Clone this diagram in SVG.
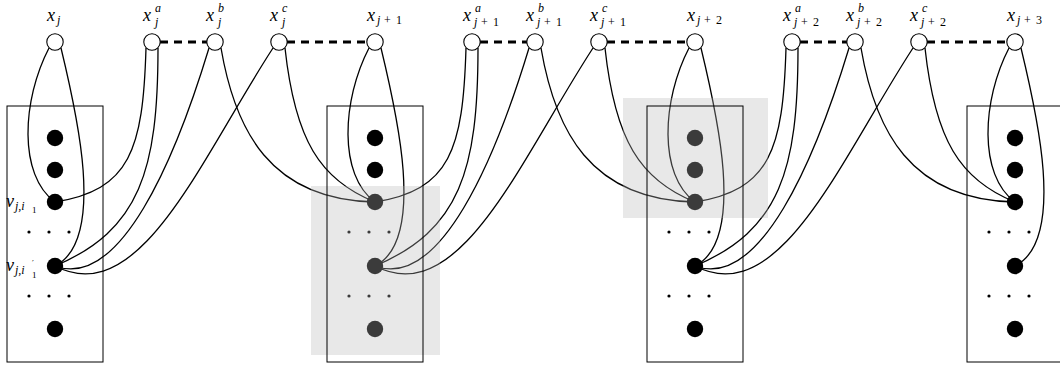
<svg xmlns="http://www.w3.org/2000/svg" width="1060" height="369" viewBox="0 0 1060 369">
<style>
.m{font-family:"Liberation Serif","DejaVu Serif",serif;font-style:italic;font-size:18px;fill:#000}
.s{font-family:"Liberation Serif","DejaVu Serif",serif;font-style:italic;font-size:12px;fill:#000}
.ss{font-family:"Liberation Serif","DejaVu Serif",serif;font-style:normal;font-size:9px;fill:#000}
.pr{font-family:"DejaVu Sans",sans-serif;font-style:normal;font-size:8px;fill:#000}
.u{font-style:normal}
.vtx{fill:#fff;stroke:#000;stroke-width:1.1}
.dot{fill:#000}
.sd{fill:#000}
.box{fill:none;stroke:#000;stroke-width:1}
.hl{fill:#b8b8b8;fill-opacity:0.32}
.e{fill:none;stroke:#000;stroke-width:1.3}
.d{stroke:#000;stroke-width:3.2;stroke-dasharray:8 6}
</style>

<g id="connectors">
  <line class="d" x1="160" y1="42" x2="207" y2="42"/>
  <line class="d" x1="287" y1="42" x2="367" y2="42"/>
  <line class="d" x1="480" y1="42" x2="527" y2="42"/>
  <line class="d" x1="607" y1="42" x2="687" y2="42"/>
  <line class="d" x1="800" y1="42" x2="847" y2="42"/>
  <line class="d" x1="927" y1="42" x2="1007" y2="42"/>
  <path class="e" d="M 49,48 C 22,100 18,175 55,202"/>
  <path class="e" d="M 61,48 C 76,110 107,240 55,266"/>
  <path class="e" d="M 146,48 C 143,150 130,190 55,202"/>
  <path class="e" d="M 158,48 C 158,170 140,230 55,266"/>
  <path class="e" d="M 209,48 C 175,160 120,290 55,266"/>
  <path class="e" d="M 273,48 C 200,160 140,310 55,266"/>
  <path class="e" d="M 221,48 C 235,130 270,200 375,202"/>
  <path class="e" d="M 285,48 C 295,140 320,180 375,202"/>
  <path class="e" d="M 369,48 C 342,100 338,175 375,202"/>
  <path class="e" d="M 381,48 C 396,110 427,240 375,266"/>
  <path class="e" d="M 466,48 C 463,150 450,190 375,202"/>
  <path class="e" d="M 478,48 C 478,170 460,230 375,266"/>
  <path class="e" d="M 529,48 C 495,160 440,290 375,266"/>
  <path class="e" d="M 593,48 C 520,160 460,310 375,266"/>
  <path class="e" d="M 541,48 C 555,130 590,200 695,202"/>
  <path class="e" d="M 605,48 C 615,140 640,180 695,202"/>
  <path class="e" d="M 689,48 C 662,100 658,175 695,202"/>
  <path class="e" d="M 701,48 C 716,110 747,240 695,266"/>
  <path class="e" d="M 786,48 C 783,150 770,190 695,202"/>
  <path class="e" d="M 798,48 C 798,170 780,230 695,266"/>
  <path class="e" d="M 849,48 C 815,160 760,290 695,266"/>
  <path class="e" d="M 913,48 C 840,160 780,310 695,266"/>
  <path class="e" d="M 861,48 C 875,130 910,200 1015,202"/>
  <path class="e" d="M 925,48 C 935,140 960,180 1015,202"/>
  <path class="e" d="M 1009,48 C 982,100 978,175 1015,202"/>
  <path class="e" d="M 1021,48 C 1036,110 1067,240 1015,266"/>
</g>

<g id="box-j-dots">
  <circle class="dot" cx="55" cy="138" r="8.2"/><circle class="dot" cx="55" cy="170" r="8.2"/>
  <circle class="dot" cx="55" cy="202" r="8.2"/><circle class="dot" cx="55" cy="266" r="8.2"/>
  <circle class="dot" cx="55" cy="329" r="8.2"/>
  <circle class="sd" cx="29" cy="232" r="1.6"/><circle class="sd" cx="49" cy="232" r="1.6"/><circle class="sd" cx="69" cy="232" r="1.6"/>
  <circle class="sd" cx="29" cy="296" r="1.6"/><circle class="sd" cx="49" cy="296" r="1.6"/><circle class="sd" cx="69" cy="296" r="1.6"/>
</g>
<g id="box-j1-dots">
  <circle class="dot" cx="375" cy="138" r="8.2"/><circle class="dot" cx="375" cy="170" r="8.2"/>
  <circle class="dot" cx="375" cy="202" r="8.2"/><circle class="dot" cx="375" cy="266" r="8.2"/>
  <circle class="dot" cx="375" cy="329" r="8.2"/>
  <circle class="sd" cx="349" cy="232" r="1.6"/><circle class="sd" cx="369" cy="232" r="1.6"/><circle class="sd" cx="389" cy="232" r="1.6"/>
  <circle class="sd" cx="349" cy="296" r="1.6"/><circle class="sd" cx="369" cy="296" r="1.6"/><circle class="sd" cx="389" cy="296" r="1.6"/>
</g>
<g id="box-j2-dots">
  <circle class="dot" cx="695" cy="138" r="8.2"/><circle class="dot" cx="695" cy="170" r="8.2"/>
  <circle class="dot" cx="695" cy="202" r="8.2"/><circle class="dot" cx="695" cy="266" r="8.2"/>
  <circle class="dot" cx="695" cy="329" r="8.2"/>
  <circle class="sd" cx="669" cy="232" r="1.6"/><circle class="sd" cx="689" cy="232" r="1.6"/><circle class="sd" cx="709" cy="232" r="1.6"/>
  <circle class="sd" cx="669" cy="296" r="1.6"/><circle class="sd" cx="689" cy="296" r="1.6"/><circle class="sd" cx="709" cy="296" r="1.6"/>
</g>
<g id="box-j3-dots">
  <circle class="dot" cx="1015" cy="138" r="8.2"/><circle class="dot" cx="1015" cy="170" r="8.2"/>
  <circle class="dot" cx="1015" cy="202" r="8.2"/><circle class="dot" cx="1015" cy="266" r="8.2"/>
  <circle class="dot" cx="1015" cy="329" r="8.2"/>
  <circle class="sd" cx="989" cy="232" r="1.6"/><circle class="sd" cx="1009" cy="232" r="1.6"/><circle class="sd" cx="1029" cy="232" r="1.6"/>
  <circle class="sd" cx="989" cy="296" r="1.6"/><circle class="sd" cx="1009" cy="296" r="1.6"/><circle class="sd" cx="1029" cy="296" r="1.6"/>
</g>

<g id="highlights">
  <rect class="hl" x="311" y="186" width="129" height="169"/>
  <rect class="hl" x="623" y="98" width="145" height="120"/>
</g>

<g id="boxes">
  <rect id="box-j" class="box" x="7" y="106" width="96" height="256"/>
  <rect id="box-j1" class="box" x="327" y="106" width="96" height="256"/>
  <rect id="box-j2" class="box" x="647" y="106" width="96" height="256"/>
  <rect id="box-j3" class="box" x="967" y="106" width="96" height="256"/>
</g>

<g id="v-labels">
  <text class="m" x="6" y="207">v</text>
  <text class="s" x="15" y="210">j,i</text>
  <text class="ss" x="32" y="213">1</text>
  <text class="m" x="6" y="271">v</text>
  <text class="s" x="15" y="274">j,i</text>
  <text class="pr" x="32" y="267">′</text>
  <text class="ss" x="32" y="278">1</text>
</g>

<g id="node-xj"><circle class="vtx" cx="55" cy="42" r="8.2"/>
  <text class="m" x="47" y="21">x</text><text class="s" x="57" y="24">j</text></g>
<g id="node-xja"><circle class="vtx" cx="152" cy="42" r="8.2"/>
  <text class="m" x="143" y="21">x</text><text class="s" x="155" y="12">a</text><text class="s" x="155" y="26">j</text></g>
<g id="node-xjb"><circle class="vtx" cx="215" cy="42" r="8.2"/>
  <text class="m" x="206" y="21">x</text><text class="s" x="218" y="12">b</text><text class="s" x="218" y="26">j</text></g>
<g id="node-xjc"><circle class="vtx" cx="279" cy="42" r="8.2"/>
  <text class="m" x="270" y="21">x</text><text class="s" x="282" y="12">c</text><text class="s" x="282" y="26">j</text></g>

<g id="node-xj1"><circle class="vtx" cx="375" cy="42" r="8.2"/>
  <text class="m" x="367" y="21">x</text><text class="s" x="377" y="24">j<tspan class="u" x="384">+</tspan><tspan class="u" x="396">1</tspan></text></g>
<g id="node-xj1a"><circle class="vtx" cx="472" cy="42" r="8.2"/>
  <text class="m" x="463" y="21">x</text><text class="s" x="475" y="12">a</text><text class="s" x="474" y="26">j<tspan class="u" x="481">+</tspan><tspan class="u" x="493">1</tspan></text></g>
<g id="node-xj1b"><circle class="vtx" cx="535" cy="42" r="8.2"/>
  <text class="m" x="526" y="21">x</text><text class="s" x="538" y="12">b</text><text class="s" x="537" y="26">j<tspan class="u" x="544">+</tspan><tspan class="u" x="556">1</tspan></text></g>
<g id="node-xj1c"><circle class="vtx" cx="599" cy="42" r="8.2"/>
  <text class="m" x="590" y="21">x</text><text class="s" x="602" y="12">c</text><text class="s" x="601" y="26">j<tspan class="u" x="608">+</tspan><tspan class="u" x="620">1</tspan></text></g>

<g id="node-xj2"><circle class="vtx" cx="695" cy="42" r="8.2"/>
  <text class="m" x="687" y="21">x</text><text class="s" x="697" y="24">j<tspan class="u" x="704">+</tspan><tspan class="u" x="716">2</tspan></text></g>
<g id="node-xj2a"><circle class="vtx" cx="792" cy="42" r="8.2"/>
  <text class="m" x="783" y="21">x</text><text class="s" x="795" y="12">a</text><text class="s" x="794" y="26">j<tspan class="u" x="801">+</tspan><tspan class="u" x="813">2</tspan></text></g>
<g id="node-xj2b"><circle class="vtx" cx="855" cy="42" r="8.2"/>
  <text class="m" x="846" y="21">x</text><text class="s" x="858" y="12">b</text><text class="s" x="857" y="26">j<tspan class="u" x="864">+</tspan><tspan class="u" x="876">2</tspan></text></g>
<g id="node-xj2c"><circle class="vtx" cx="919" cy="42" r="8.2"/>
  <text class="m" x="910" y="21">x</text><text class="s" x="922" y="12">c</text><text class="s" x="921" y="26">j<tspan class="u" x="928">+</tspan><tspan class="u" x="940">2</tspan></text></g>

<g id="node-xj3"><circle class="vtx" cx="1015" cy="42" r="8.2"/>
  <text class="m" x="1007" y="21">x</text><text class="s" x="1017" y="24">j<tspan class="u" x="1024">+</tspan><tspan class="u" x="1036">3</tspan></text></g>
</svg>
